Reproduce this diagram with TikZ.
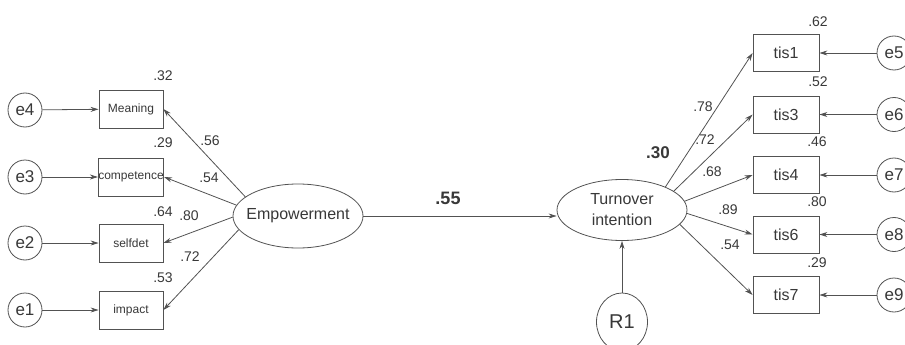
\documentclass[tikz,border=0pt]{standalone}
\usepackage{fontspec}
\setmainfont{Liberation Sans}
\usetikzlibrary{shapes.geometric,arrows.meta}
\definecolor{linecol}{gray}{0.32}
\definecolor{txtcol}{gray}{0.22}
\tikzset{
  obs/.style={draw=linecol, line width=0.8pt, minimum width=64pt, minimum height=38pt, inner sep=0pt, text=txtcol, font=\fontsize{12}{12}\selectfont},
  obsR/.style={obs, minimum width=66pt, minimum height=37pt, font=\fontsize{16}{16}\selectfont},
  err/.style={draw=linecol, line width=0.8pt, circle, minimum size=34pt, inner sep=0pt, text=txtcol, font=\fontsize{17}{17}\selectfont},
  latent/.style={draw=linecol, line width=0.8pt, ellipse, inner sep=0pt},
  lattext/.style={text=txtcol, inner sep=0pt, align=center, font=\fontsize{16}{21}\selectfont},
  coef/.style={text=txtcol, inner sep=0pt, font=\fontsize{14}{14}\selectfont},
  bcoef/.style={text=txtcol, inner sep=0pt, font=\bfseries\fontsize{18}{18}\selectfont},
  arr/.style={draw=linecol, line width=0.8pt, -{Stealth[length=8pt,width=5pt]}},
}
\begin{document}
\begin{tikzpicture}[x=1pt,y=-1pt]
\useasboundingbox (0,0) rectangle (905,345);
% left latent
\node[latent, minimum width=130pt, minimum height=64pt] (emp) at (298,216) {};
\node[lattext] (empT) at (298,216) {Empowerment};
% left indicators
\node[obs] (mean) at (131,109) {Meaning};
\node[obs] (comp) at (131,177) {competence};
\node[obs] (self) at (131,243) {selfdet};
\node[obs] (imp) at (131,310) {impact};
% left errors
\node[err] (e4) at (25,110) {e4};
\node[err] (e3) at (25,177) {e3};
\node[err] (e2) at (25,243) {e2};
\node[err] (e1) at (25,310) {e1};
% right latent
\node[latent, minimum width=130pt, minimum height=61pt] (turn) at (622,210) {};
\node[lattext] (turnT) at (622,210) {Turnover\\intention};
\node[draw=linecol, line width=0.8pt, ellipse, minimum width=51pt, minimum height=58pt, inner sep=0pt, text=txtcol, font=\fontsize{20}{20}\selectfont] (r1) at (622,322) {R1};
% right indicators
\node[obsR] (t1) at (786,53) {tis1};
\node[obsR] (t3) at (786,114.5) {tis3};
\node[obsR] (t4) at (786,175) {tis4};
\node[obsR] (t6) at (786,234.5) {tis6};
\node[obsR] (t7) at (786,295) {tis7};
% right errors
\node[err] (e5) at (894,53) {e5};
\node[err] (e6) at (894,114.5) {e6};
\node[err] (e7) at (894,175) {e7};
\node[err] (e8) at (894,234.5) {e8};
\node[err] (e9) at (894,295) {e9};
% connectors left
\draw[arr] (e4) -- (mean);
\draw[arr] (e3) -- (comp);
\draw[arr] (e2) -- (self);
\draw[arr] (e1) -- (imp);
\draw[arr] (emp.160) -- (mean.east);
\draw[arr] (emp.170) -- (comp.east);
\draw[arr] (emp.181) -- (self.east);
\draw[arr] (emp.193) -- (imp.east);
% main path
\draw[arr] (emp.east) -- (emp.east -| turn.west);
\draw[arr] (r1) -- (turn);
% connectors right
\draw[arr] (turn.28) -- (t1.west);
\draw[arr] (turn.20) -- (t3.west);
\draw[arr] (turn.8) -- (t4.west);
\draw[arr] (turn.-3) -- (t6.west);
\draw[arr] (turn.-14) -- (t7.west);
\draw[arr] (e5) -- (t1);
\draw[arr] (e6) -- (t3);
\draw[arr] (e7) -- (t4);
\draw[arr] (e8) -- (t6);
\draw[arr] (e9) -- (t7);
% R squared left
\node[coef] (r2a) at (163,76) {.32};
\node[coef] (r2b) at (163,143) {.29};
\node[coef] (r2c) at (163,212) {.64};
\node[coef] (r2d) at (163,278) {.53};
% loadings left
\node[coef] (la) at (210,141) {.56};
\node[coef] (lb) at (209,178) {.54};
\node[coef] (lc) at (189,216) {.80};
\node[coef] (ld) at (190,257) {.72};
% R squared right
\node[coef] (r2e) at (818,22) {.62};
\node[coef] (r2f) at (818,82) {.52};
\node[coef] (r2g) at (817,142) {.46};
\node[coef] (r2h) at (817,202) {.80};
\node[coef] (r2i) at (817,263) {.29};
% loadings right
\node[coef] (le1) at (703,107) {.78};
\node[coef] (le2) at (705,140) {.72};
\node[coef] (le3) at (712,172) {.68};
\node[coef] (le4) at (728,210) {.89};
\node[coef] (le5) at (730,245) {.54};
% structural
\node[bcoef] (beta) at (448,198) {.55};
\node[bcoef, font=\bfseries\fontsize{17}{17}\selectfont] (rsq) at (658,153) {.30};
\end{tikzpicture}
\end{document}
